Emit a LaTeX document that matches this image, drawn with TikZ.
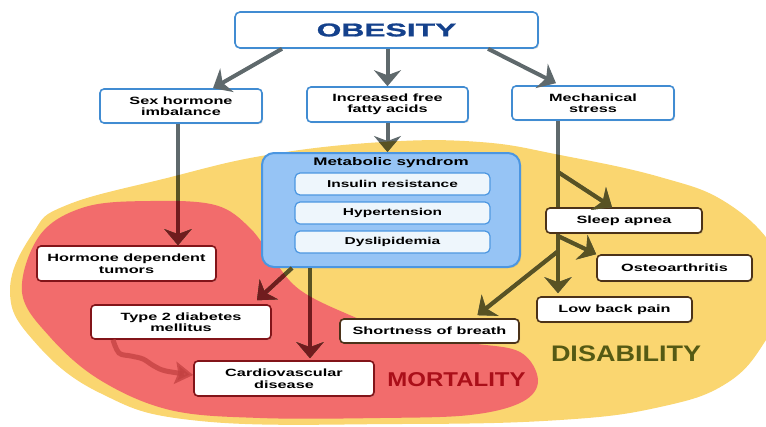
\documentclass[tikz,border=0pt]{standalone}
\usepackage{fontspec}
\setmainfont{Liberation Sans}
\newfontfamily\boxfont{Liberation Sans}[FakeStretch=1.55]
\newfontfamily\headfont{Liberation Sans}[FakeStretch=1.72, FakeBold=1.2]
\newfontfamily\zonefont{Liberation Sans}[FakeStretch=1.2]
\usepackage{tikz}
\usetikzlibrary{arrows.meta,shadows}

\definecolor{zoneyellow}{RGB}{250,214,112}
\definecolor{zonered}{RGB}{242,108,108}
\definecolor{topblue}{RGB}{65,140,210}
\definecolor{metfill}{RGB}{150,196,245}
\definecolor{metline}{RGB}{75,150,225}
\definecolor{innerfill}{RGB}{238,246,252}
\definecolor{riskred}{RGB}{130,20,25}
\definecolor{disbrown}{RGB}{75,50,25}
\definecolor{arrowgray}{RGB}{95,105,108}
\definecolor{arrowolive}{RGB}{88,82,35}
\definecolor{arrowred}{RGB}{112,28,30}
\definecolor{wavered}{RGB}{195,65,65}
\definecolor{obblue}{RGB}{20,65,140}
\definecolor{mortred}{RGB}{170,15,25}
\definecolor{disgreen}{RGB}{85,90,20}

% outlines of the two zones
\newcommand\yellowzone{plot[smooth cycle, tension=0.7] coordinates {(10,290) (33,233) (67,205) (167,178)
  (267,155) (383,142) (480,142) (560,155) (660,177) (727,203) (775,250) (785,295) (766,340)
  (727,383) (660,407) (560,420) (400,424) (200,421) (100,393) (33,340)}}
\newcommand\redzone{plot[smooth cycle, tension=0.6] coordinates {(22,292) (40,235) (85,207) (150,201)
  (215,205) (250,228) (275,262) (300,290) (345,313) (400,333) (470,343) (520,352) (538,380)
  (522,402) (470,415) (380,418) (260,418) (170,410) (100,380) (50,337)}}

% all connectors, in the colour arrcol
\newcommand\connectors{%
  \draw[arr] ([xshift=-104.5pt]OB.south) to ([xshift=32pt]SH.north);
  \draw[arr] (FA.north |- OB.south) to (FA.north);
  \draw[arr] ([xshift=101.5pt]OB.south) to ([xshift=-37pt,yshift=2pt]MS.north);
  \draw[arr] (FA.south) to (FA.south |- MET.north);
  \draw[arr] ([xshift=-3pt]SH.south) to ([xshift=-3pt]SH.south |- HDT.north);
  \draw[arr] ([xshift=-99pt]MET.south) to ([xshift=76pt,yshift=4pt]T2D.north);
  \draw[arr] ([xshift=-81pt]MET.south) to ([xshift=26pt,yshift=2pt]CVD.north);
  \draw[stem] (MSD) to (MSD |- SA.north);
  \draw[arr] (J1) to ([xshift=-12pt]SA.north);
  \draw[arr] (MSD |- SA.south) to ([yshift=3pt]MSD |- LBP.north);
  \draw[arr] (J2) to (OA.north west);
  \draw[arr] (J3) to ([xshift=48pt,yshift=3pt]SOB.north);}

\begin{document}
\begin{tikzpicture}[x=1pt,y=-1pt,
    box/.style={draw, fill=white, rounded corners=4pt, line width=1.6pt, align=center, inner sep=0pt,
      font=\boxfont\bfseries\fontsize{10.5}{11.5}\selectfont,
      drop shadow={opacity=0.25, shadow xshift=1.2pt, shadow yshift=-1.2pt}},
    topbox/.style={box, draw=topblue, minimum width=162pt, minimum height=34pt},
    riskbox/.style={box, draw=riskred, minimum width=179pt, minimum height=35pt},
    disbox/.style={box, draw=disbrown, minimum width=155pt, minimum height=25pt},
    innerbox/.style={draw=metline, fill=innerfill, rounded corners=5pt, line width=1.2pt, inner sep=0pt,
      minimum width=195pt, minimum height=22pt, font=\boxfont\bfseries\fontsize{10}{11}\selectfont},
    arr/.style={draw=arrcol, fill=arrcol, line width=4pt, -{Stealth[length=16pt, width=27pt, inset=5pt]}},
    stem/.style={draw=arrcol, line width=4pt},
    wavy/.style={draw=wavered, opacity=0.75, line width=5pt, -{Stealth[length=18pt, width=22pt, inset=3pt]}}]
  \useasboundingbox (0,0) rectangle (766,426);

  % zones
  \begin{scope}
    \clip (0,0) rectangle (766,426);
    \fill[zoneyellow] \yellowzone;
    \fill[zonered] \redzone;
  \end{scope}

  % causes
  \node (OB) at (386.5,30) [box, draw=topblue, rounded corners=5pt, minimum width=303pt, minimum height=36pt,
    font=\headfont\bfseries\fontsize{18.5}{20}\selectfont, text=obblue] {OBESITY};
  \node (SH) at (181,106) [topbox] {Sex hormone\\imbalance};
  \node (FA) at (387.5,104.5) [topbox, minimum width=161pt, minimum height=35pt] {Increased free\\fatty acids};
  \node (MS) at (593,103) [topbox] {Mechanical\\stress};

  % metabolic syndrome
  \node (MET) at (391,210) [draw=metline, fill=metfill, rounded corners=12pt, line width=2pt,
    minimum width=258pt, minimum height=114pt,
    drop shadow={opacity=0.25, shadow xshift=1.2pt, shadow yshift=-1.2pt}] {};
  \node (MT) at (391,163) [font=\boxfont\bfseries\fontsize{11}{12}\selectfont] {Metabolic syndrom};
  \node (IR) at (392.5,184) [innerbox] {Insulin resistance};
  \node (HY) at (392.5,213) [innerbox] {Hypertension};
  \node (DY) at (392.5,242) [innerbox] {Dyslipidemia};

  % outcomes
  \node (HDT) at (126.5,263.5) [riskbox] {Hormone dependent\\tumors};
  \node (T2D) at (181,322) [riskbox, minimum width=180pt, minimum height=34pt] {Type 2 diabetes\\mellitus};
  \node (CVD) at (284,378.5) [riskbox, minimum width=180pt] {Cardiovascular\\disease};
  \node (SOB) at (429.5,331) [disbox, minimum width=179pt, minimum height=24pt] {Shortness of breath};
  \node (SA) at (624,220.5) [disbox, minimum width=156pt] {Sleep apnea};
  \node (OA) at (674.5,268) [disbox, minimum height=26pt] {Osteoarthritis};
  \node (LBP) at (614.5,309.5) [disbox] {Low back pain};

  \node (MORT) at (456.5,379.5) [inner sep=0pt, text=mortred, font=\zonefont\bfseries\fontsize{20}{22}\selectfont] {MORTALITY};
  \node (DIS) at (626,354) [inner sep=0pt, text=disgreen, font=\zonefont\bfseries\fontsize{22.5}{24}\selectfont] {DISABILITY};

  % connectors: grey, then olive on yellow, then dark red on red
  \coordinate (MSD) at ([xshift=-35pt]MS.south);
  \coordinate (J1) at (558,172);
  \coordinate (J2) at (558,236);
  \coordinate (J3) at (557,252);
  \begin{scope}
    \colorlet{arrcol}{arrowgray}
    \connectors
  \end{scope}
  \begin{scope}
    \clip \yellowzone;
    \colorlet{arrcol}{arrowolive}
    \connectors
  \end{scope}
  \begin{scope}
    \clip \redzone;
    \colorlet{arrcol}{arrowred}
    \connectors
  \end{scope}
  \draw[wavy] plot[smooth, tension=0.6] coordinates {([xshift=-68pt]T2D.south) (119,353) (131,356)
    (143,359) (154,366) (166,371) ([yshift=3.5pt]CVD.west)};
\end{tikzpicture}
\end{document}
